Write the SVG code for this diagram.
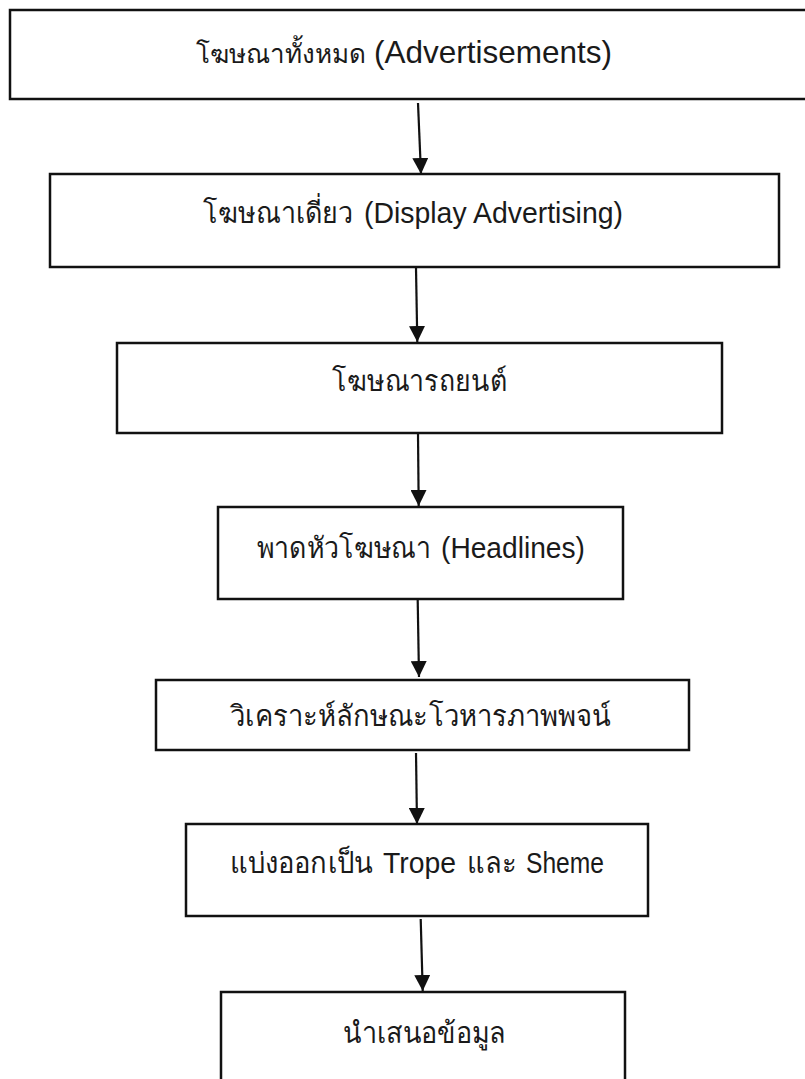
<svg xmlns="http://www.w3.org/2000/svg" width="805" height="1079" viewBox="0 0 805 1079">
<defs>
<style>
.box{fill:#fff;stroke:#111;stroke-width:2.5}
.lbl{font-family:"Liberation Sans","Noto Sans",sans-serif;font-size:29px;fill:#1a1a1a}
.big{font-size:32px}
.con{stroke:#111;stroke-width:2.2;fill:none}
</style>
<marker id="ah" markerWidth="16" markerHeight="16" refX="16" refY="8" orient="auto" markerUnits="userSpaceOnUse">
<path d="M0,0 L16,8 L0,16 Z" fill="#111"/>
</marker>
</defs>
<rect width="805" height="1079" fill="#fff"/>
<g id="n1"><rect class="box" x="10" y="10" width="810" height="89"/>
<text class="lbl" x="366" y="63" style="font-size:26px" text-anchor="end">โฆษณาทั้งหมด</text>
<text class="lbl big" x="374" y="63" textLength="238" lengthAdjust="spacingAndGlyphs">(Advertisements)</text></g>
<g id="n2"><rect class="box" x="50" y="174" width="729" height="93"/>
<text class="lbl" x="203" y="223" textLength="150" lengthAdjust="spacingAndGlyphs">โฆษณาเดี่ยว</text>
<text class="lbl" x="364" y="223" textLength="259" lengthAdjust="spacingAndGlyphs">(Display Advertising)</text></g>
<g id="n3"><rect class="box" x="117" y="343" width="605" height="90"/>
<text class="lbl" x="332" y="391" textLength="175" lengthAdjust="spacingAndGlyphs">โฆษณารถยนต์</text></g>
<g id="n4"><rect class="box" x="218" y="507" width="405" height="92"/>
<text class="lbl" x="257" y="558" textLength="174" lengthAdjust="spacingAndGlyphs">พาดหัวโฆษณา</text>
<text class="lbl" x="441" y="558" textLength="144" lengthAdjust="spacingAndGlyphs">(Headlines)</text></g>
<g id="n5"><rect class="box" x="156" y="680" width="533" height="70"/>
<text class="lbl" x="230" y="726" textLength="381" lengthAdjust="spacingAndGlyphs">วิเคราะห์ลักษณะโวหารภาพพจน์</text></g>
<g id="n6"><rect class="box" x="186" y="824" width="462" height="92"/>
<text class="lbl" x="230" y="873" textLength="143" lengthAdjust="spacingAndGlyphs">แบ่งออกเป็น</text>
<text class="lbl" x="383" y="873" textLength="73" lengthAdjust="spacingAndGlyphs">Trope</text>
<text class="lbl" x="467" y="873" textLength="50" lengthAdjust="spacingAndGlyphs">และ</text>
<text class="lbl" x="526" y="873" textLength="78" lengthAdjust="spacingAndGlyphs">Sheme</text></g>
<g id="n7"><rect class="box" x="221" y="992" width="404" height="100"/>
<text class="lbl" x="343" y="1043" textLength="163" lengthAdjust="spacingAndGlyphs">นำเสนอข้อมูล</text></g>
<g id="connectors">
<line class="con" x1="418" y1="103" x2="421" y2="174" marker-end="url(#ah)"/>
<line class="con" x1="416" y1="268" x2="417.3" y2="342" marker-end="url(#ah)"/>
<line class="con" x1="418" y1="434" x2="418.7" y2="506" marker-end="url(#ah)"/>
<line class="con" x1="417.7" y1="600" x2="419" y2="677" marker-end="url(#ah)"/>
<line class="con" x1="416" y1="753" x2="417" y2="824" marker-end="url(#ah)"/>
<line class="con" x1="420.7" y1="919" x2="422.7" y2="991" marker-end="url(#ah)"/>
</g>
</svg>
